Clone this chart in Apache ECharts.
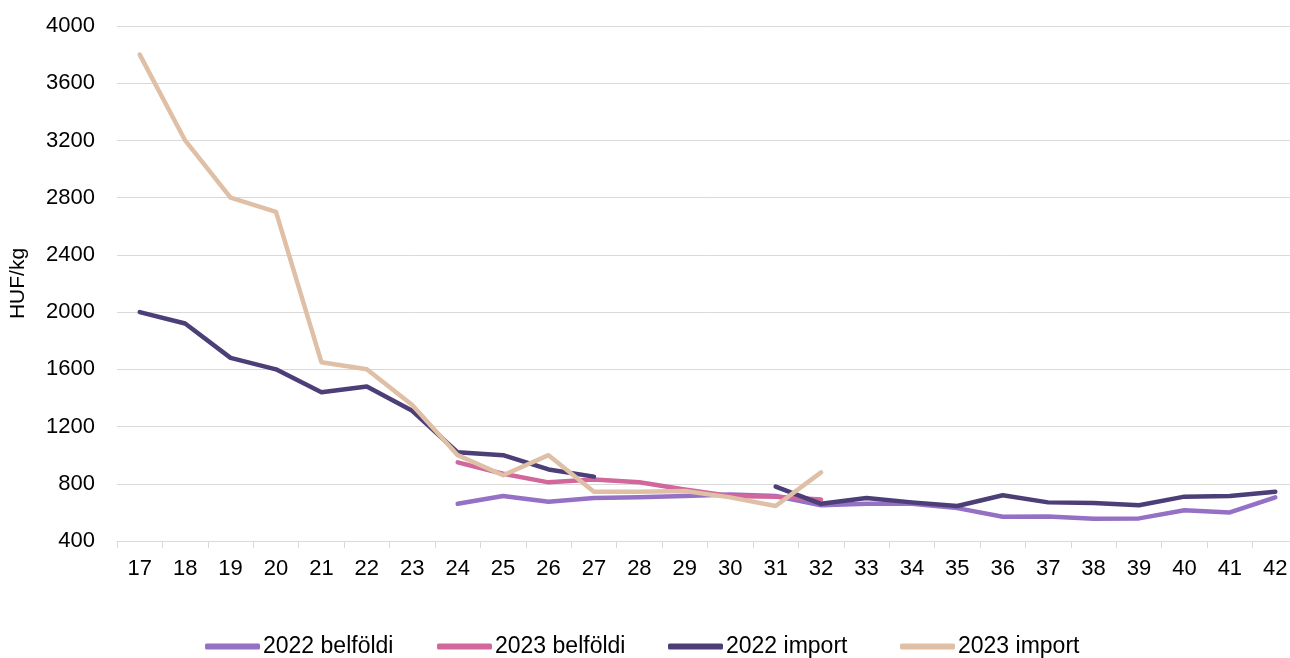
<!DOCTYPE html>
<html>
<head>
<meta charset="utf-8">
<script src="https://cdn.jsdelivr.net/npm/echarts@6/dist/echarts.min.js"></script>
<style>
  html, body { margin: 0; padding: 0; background: #fff; overflow: hidden; }
  #box { width: 1298px; height: 658px; }
</style>
</head>
<body>
<div id="box"></div>
<script>
// hetek
let weeks = ['17','18','19','20','21','22','23','24','25','26','27','28','29','30','31','32','33','34','35','36','37','38','39','40','41','42'];

let belfoldi2022 = [null,null,null,null,null,null,null,660,715,675,700,705,715,725,715,650,660,660,630,570,572,555,558,615,600,705];
let belfoldi2023 = [null,null,null,null,null,null,null,950,870,810,830,810,760,715,710,690,null,null,null,null,null,null,null,null,null,null];
let import2022 = [2000,1920,1680,1600,1440,1480,1310,1020,1000,900,850,null,null,null,780,660,700,670,645,720,670,665,650,710,715,745];
let import2023 = [3800,3200,2800,2700,1650,1600,1350,1000,860,1000,745,745,750,705,645,880,null,null,null,null,null,null,null,null,null,null];

let seriesNames = ['2022 belföldi', '2023 belföldi', '2022 import', '2023 import'];
let yTicks = [400, 4000, 400]; // min, max, interval

window.addEventListener('load', function () {
    let mychart = echarts.init(document.getElementById('box'));

    function mkLine(name, data, color) {
        return {
            name: name,
            type: 'line',
            data: data,
            symbol: 'none',
            connectNulls: false,
            lineStyle: { color: color, width: 4.5, cap: 'round', join: 'round' },
            itemStyle: { color: color }
        };
    }

    // egy legenda elemenként, hogy a távolságok egyezzenek
    let legendLeft = [200, 432, 663, 895];
    let legends = seriesNames.map(function (n, i) {
        return {
            left: legendLeft[i],
            top: 630,
            icon: 'roundRect',
            itemWidth: 55,
            itemHeight: 6,
            textStyle: { fontSize: 23, color: '#000', padding: [0, 0, 0, -2] },
            data: [n]
        };
    });

    let options = {
        backgroundColor: '#fff',
        animation: false,
        textStyle: { fontFamily: 'Liberation Sans, Arial, sans-serif' },
        grid: { left: 117, right: 0, top: 26, bottom: 117 },
        legend: legends,
        xAxis: {
            type: 'category',
            data: weeks,
            boundaryGap: true,
            axisLine: { lineStyle: { color: '#d9d9d9', width: 1 } },
            axisTick: { show: true, length: 7, lineStyle: { color: '#d9d9d9' } },
            axisLabel: { fontSize: 22, color: '#000', margin: 17 }
        },
        yAxis: {
            type: 'value',
            min: yTicks[0],
            max: yTicks[1],
            interval: yTicks[2],
            name: 'HUF/kg',
            nameLocation: 'middle',
            nameGap: 88,
            nameTextStyle: { fontSize: 21, color: '#000' },
            axisLine: { show: false },
            axisTick: { show: false },
            axisLabel: { fontSize: 22, color: '#000', margin: 22, formatter: function (v) { return String(v); } },
            splitLine: { lineStyle: { color: '#d9d9d9', width: 1 } }
        },
        series: [
            mkLine(seriesNames[0], belfoldi2022, '#9471c4'),
            mkLine(seriesNames[1], belfoldi2023, '#d1679b'),
            mkLine(seriesNames[2], import2022, '#4c3f78'),
            mkLine(seriesNames[3], import2023, '#dfbfa5')
        ]
    };

    mychart.setOption(options);
});
</script>
</body>
</html>
